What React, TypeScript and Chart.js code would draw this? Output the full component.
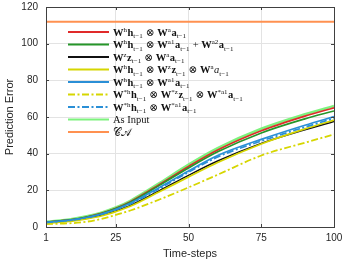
import React, { useEffect, useRef } from "react";
import { Chart, registerables } from "chart.js";
Chart.register(...registerables);

const timeSteps = [1, 10, 15, 20, 25, 30, 40, 50, 60, 75, 90, 100];
const seriesRed = [2.6, 4.0, 5.4, 7.4, 10.2, 13.8, 23.2, 33.0, 42.0, 52.5, 60.5, 65.0];
const seriesGreen = [2.6, 4.0, 5.4, 7.3, 10.0, 13.5, 22.7, 32.2, 41.0, 51.3, 59.0, 63.3];
const seriesBlack = [2.3, 3.5, 4.7, 6.4, 8.8, 11.8, 19.8, 28.2, 36.0, 45.6, 53.0, 57.5];
const seriesYellow = [2.0, 3.2, 4.4, 6.0, 8.4, 11.3, 19.2, 27.3, 35.2, 45.3, 53.5, 58.3];
const seriesBlue = [2.5, 3.9, 5.2, 7.0, 9.7, 13.0, 21.6, 30.6, 39.0, 47.8, 55.5, 60.2];
const seriesYellowDash = [1.6, 2.1, 2.9, 4.4, 6.6, 9.0, 15.0, 21.6, 28.5, 39.0, 46.0, 50.5];
const seriesBlueDash = [2.4, 3.8, 5.1, 6.9, 9.4, 12.6, 21.0, 29.9, 38.2, 46.9, 54.5, 59.3];
const seriesAsInput = [2.8, 4.3, 5.8, 7.8, 10.6, 14.3, 23.9, 34.0, 43.0, 53.6, 61.5, 66.0];
const seriesCA = [112, 112, 112, 112, 112, 112, 112, 112, 112, 112, 112, 112];

const xTicks = [1, 25, 50, 75, 100];
const yTicks = [0, 20, 40, 60, 80, 100, 120];

// legend labels: letters outside braces are bold math, ^{..} superscript, _{..} subscript, ~x italic
const legendLabels = [
  "W^{h}h_{t−1} ⊗ W^{a}a_{t−1}",
  "W^{h}h_{t−1} ⊗ W^{a1}a_{t−1} + W^{a2}a_{t−1}",
  "W^{z}z_{t−1} ⊗ W^{a}a_{t−1}",
  "W^{h}h_{t−1} ⊗ W^{z}z_{t−1} ⊗ W^{a}~a_{t−1}",
  "W^{h}h_{t−1} ⊗ W^{a1}a_{t−1}",
  "W^{*h}h_{t−1} ⊗ W^{*z}z_{t−1} ⊗ W^{*a1}a_{t−1}",
  "W^{*h}h_{t−1} ⊗ W^{*a1}a_{t−1}",
  "As Input",
  "𝒞𝒜",
];
const plainLabels = [false, false, false, false, false, false, false, true, true];

const seriesValues = [
  seriesRed, seriesGreen, seriesBlack, seriesYellow, seriesBlue,
  seriesYellowDash, seriesBlueDash, seriesAsInput, seriesCA,
];
const seriesColors = [
  "#e02a2a", "#26962a", "#111111", "#d6d600", "#2a8fd6",
  "#d6d600", "#2a8fd6", "#7df27d", "#ff9150",
];
const dashDot = [7, 2.5, 2, 2.5];
const seriesDash = [[], [], [], [], [], dashDot, dashDot, [], []];
const seriesWidth = [1.7, 1.7, 1.5, 1.7, 1.7, 1.8, 1.8, 2.6, 2];

const SERIF = '"Liberation Serif", "DejaVu Serif", serif';
const SANS = '"Liberation Sans", Arial, sans-serif';

function drawMath(ctx: CanvasRenderingContext2D, text: string, x: number, y: number, plain: boolean) {
  const main = 10.5;
  const small = 7;
  ctx.textBaseline = "alphabetic";
  ctx.textAlign = "left";
  ctx.fillStyle = "#111";
  const base = y + 3.5;
  if (plain) {
    ctx.font = `${main}px ${SERIF}`;
    ctx.fillText(text, x, base);
    return;
  }
  let cx = x;
  let i = 0;
  let italicNext = false;
  while (i < text.length) {
    const ch = text[i];
    if ((ch === "^" || ch === "_") && text[i + 1] === "{") {
      const end = text.indexOf("}", i);
      const content = text.slice(i + 2, end);
      ctx.font = `${small}px ${SERIF}`;
      const dy = ch === "^" ? -4 : 2.5;
      ctx.fillText(content, cx, base + dy);
      cx += ctx.measureText(content).width + 0.5;
      i = end + 1;
      continue;
    }
    if (ch === "~") {
      italicNext = true;
      i++;
      continue;
    }
    if (/[A-Za-z]/.test(ch)) {
      ctx.font = italicNext ? `italic ${main}px ${SERIF}` : `bold ${main}px ${SERIF}`;
      italicNext = false;
    } else {
      ctx.font = `${main}px ${SERIF}`;
    }
    ctx.fillText(ch, cx, base);
    cx += ctx.measureText(ch).width;
    i++;
  }
}

const legendPlugin = {
  id: "mathLegend",
  afterDraw(chart: any) {
    const { ctx, chartArea } = chart;
    ctx.save();
    const x0 = chartArea.left + 22;
    const x1 = chartArea.left + 63;
    const tx = chartArea.left + 67;
    legendLabels.forEach((lab, i) => {
      const y = chartArea.top + 25 + i * 12.5;
      ctx.beginPath();
      ctx.strokeStyle = seriesColors[i];
      ctx.lineWidth = 2;
      ctx.setLineDash(seriesDash[i]);
      ctx.moveTo(x0, y);
      ctx.lineTo(x1, y);
      ctx.stroke();
      ctx.setLineDash([]);
      drawMath(ctx, lab, tx, y, plainLabels[i]);
    });
    ctx.restore();
  },
};

const boxPlugin = {
  id: "matlabBox",
  afterDraw(chart: any) {
    const { ctx, chartArea, scales } = chart;
    const { left, right, top, bottom } = chartArea;
    ctx.save();
    ctx.strokeStyle = "#404040";
    ctx.lineWidth = 1;
    ctx.beginPath();
    const tl = 3;
    xTicks.forEach((v) => {
      const px = Math.round(scales.x.getPixelForValue(v)) + 0.5;
      ctx.moveTo(px, bottom);
      ctx.lineTo(px, bottom - tl);
      ctx.moveTo(px, top);
      ctx.lineTo(px, top + tl);
    });
    yTicks.forEach((v) => {
      const py = Math.round(scales.y.getPixelForValue(v)) + 0.5;
      ctx.moveTo(left, py);
      ctx.lineTo(left + tl, py);
      ctx.moveTo(right, py);
      ctx.lineTo(right - tl, py);
    });
    ctx.stroke();
    ctx.strokeRect(Math.round(left) + 0.5, Math.round(top) + 0.5, Math.round(right - left), Math.round(bottom - top));
    ctx.restore();
  },
};

export default function App() {
  const ref = useRef<HTMLCanvasElement>(null);
  useEffect(() => {
    document.body.style.margin = "0";
    const datasets = seriesValues.map((vals, i) => ({
      label: legendLabels[i],
      data: vals.map((v, j) => ({ x: timeSteps[j], y: v })),
      borderColor: seriesColors[i],
      backgroundColor: seriesColors[i],
      borderWidth: seriesWidth[i],
      borderDash: seriesDash[i],
      pointRadius: 0,
      fill: false,
      cubicInterpolationMode: "monotone" as const,
      order: i === 7 ? 20 : 10 - i,
    }));
    const chart = new Chart(ref.current!, {
      type: "line",
      data: { datasets },
      plugins: [boxPlugin, legendPlugin],
      options: {
        animation: false,
        responsive: true,
        maintainAspectRatio: false,
        layout: { padding: { left: 0, top: 7, right: 13, bottom: 0 } },
        plugins: { legend: { display: false }, tooltip: { enabled: false } },
        scales: {
          x: {
            type: "linear",
            min: 1,
            max: 100,
            afterBuildTicks: (s: any) => { s.ticks = xTicks.map((v) => ({ value: v })); },
            afterFit: (s: any) => { s.height = 36; s.paddingLeft = 0; s.paddingRight = 0; },
            grid: { color: "#e3e3e3", drawTicks: false, lineWidth: 1 },
            border: { display: false },
            ticks: { font: { family: SANS, size: 10 }, color: "#262626", padding: 5, maxRotation: 0, autoSkip: false },
            title: { display: true, text: "Time-steps", font: { family: SANS, size: 11 }, color: "#262626", padding: { top: 0, bottom: 2 } },
          },
          y: {
            min: 0,
            max: 120,
            afterBuildTicks: (s: any) => { s.ticks = yTicks.map((v) => ({ value: v })); },
            afterFit: (s: any) => { s.width = 46; s.paddingTop = 0; s.paddingBottom = 0; },
            grid: { color: "#e3e3e3", drawTicks: false, lineWidth: 1 },
            border: { display: false },
            ticks: { font: { family: SANS, size: 10 }, color: "#262626", padding: 8 },
            title: { display: true, text: "Prediction Error", font: { family: SANS, size: 11 }, color: "#262626", padding: { top: 3, bottom: 0 } },
          },
        },
      },
    });
    return () => chart.destroy();
  }, []);
  return (
    <div style={{ width: 347, height: 263, position: "relative" }}>
      <canvas ref={ref} />
    </div>
  );
}
